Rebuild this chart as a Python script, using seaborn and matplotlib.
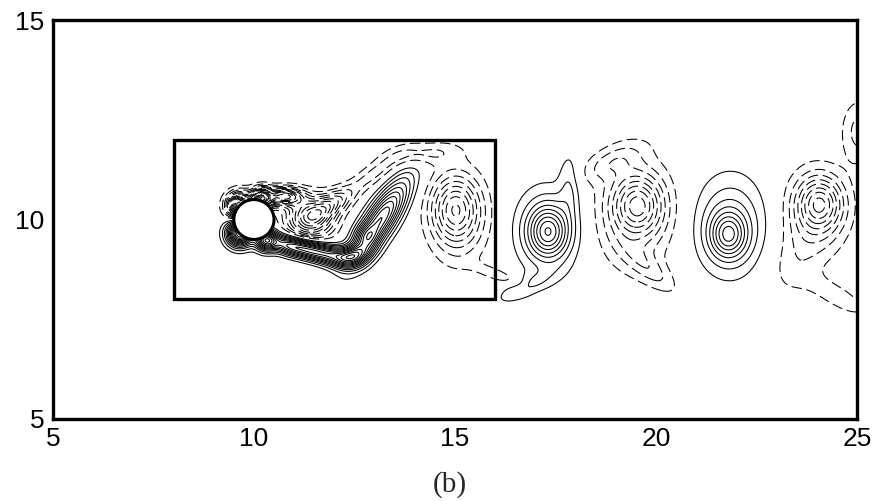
import matplotlib
matplotlib.use("Agg")
import matplotlib.pyplot as plt
import seaborn as sns
import numpy as np
from matplotlib.patches import Circle, Rectangle

# Vortex patches: centre, strength, widths along/across, tilt (deg)
blob_x = [17.32, 17.30, 17.85, 16.75, 16.10,
          19.56, 19.45, 18.90, 19.85,
          21.80, 21.85,
          24.08, 24.00, 23.50, 24.55, 25.05,
          15.00, 15.10, 14.20, 13.00,
          13.15, 12.80,
          10.30, 10.85, 11.45, 12.05, 12.50,
          10.20, 10.75, 11.40, 11.95,
          9.65, 9.65]
blob_y = [9.69, 9.75, 10.90, 8.30, 8.60,
          10.36, 10.15, 11.45, 8.75,
          9.61, 9.85,
          10.41, 10.20, 9.00, 8.05, 12.20,
          10.28, 10.00, 11.65, 11.15,
          10.00, 9.57,
          9.48, 9.35, 9.22, 9.08, 9.10,
          10.52, 10.58, 10.05, 10.40,
          9.65, 10.35]
blob_amp = [3.0, 1.6, 0.9, 1.0, -0.8,
            -2.8, -1.6, -1.0, -1.0,
            2.6, 1.8,
            -2.8, -1.4, -0.7, -0.8, -1.2,
            -2.8, -1.4, -1.2, -1.2,
            5.0, 1.5,
            5.0, 4.0, 3.8, 3.6, 3.2,
            -7.0, -5.5, -4.5, -2.5,
            7.0, -7.0]
blob_sa = [0.33, 0.55, 0.18, 0.55, 0.45,
           0.42, 0.65, 0.60, 0.60,
           0.30, 0.60,
           0.38, 0.55, 0.45, 0.65, 0.30,
           0.40, 0.50, 0.60, 0.60,
           0.80, 0.20,
           0.18, 0.35, 0.35, 0.35, 0.30,
           0.18, 0.30, 0.40, 0.40,
           0.22, 0.22]
blob_sb = [0.42, 0.75, 0.55, 0.18, 0.12,
           0.50, 0.95, 0.25, 0.22,
           0.38, 0.85,
           0.45, 0.75, 0.75, 0.22, 0.55,
           0.55, 0.80, 0.20, 0.18,
           0.25, 0.20,
           0.18, 0.16, 0.16, 0.17, 0.17,
           0.18, 0.15, 0.35, 0.20,
           0.22, 0.22]
blob_theta = [0, 0, 0, 25, -20,
              0, 0, 25, -40,
              0, 0,
              0, 0, -25, -30, 0,
              0, 0, 5, 35,
              57, 0,
              0, -15, -15, -10, 20,
              0, 0, 0, 30,
              0, 0]

x_ticks = [5, 10, 15, 20, 25]
y_ticks = [5, 10, 15]
box = [8, 8, 8, 4]          # x0, y0, width, height of inner window
cyl = [10, 10, 0.5]         # cylinder centre and radius

gx = np.linspace(5, 25, 1001)
gy = np.linspace(5, 15, 501)
X, Y = np.meshgrid(gx, gy)
W = np.zeros_like(X)
for x0, y0, a, sa, sb, th in zip(blob_x, blob_y, blob_amp, blob_sa, blob_sb, blob_theta):
    t = np.radians(th)
    dx, dy = X - x0, Y - y0
    u = dx * np.cos(t) + dy * np.sin(t)
    v = -dx * np.sin(t) + dy * np.cos(t)
    W += a * np.exp(-(u ** 2 / (2 * sa ** 2) + v ** 2 / (2 * sb ** 2)))

levels = np.concatenate([-np.arange(0.5, 25, 0.5)[::-1], np.arange(0.5, 25, 0.5)])
styles = [(0, (10, 4.5)) if lv < 0 else "solid" for lv in levels]

sns.set_style("white")
plt.rcParams["font.family"] = ["Liberation Sans", "DejaVu Sans"]

fig = plt.figure(figsize=(8.77, 5.01), dpi=100)
ax = fig.add_axes([0.0604, 0.1637, 0.9166, 0.7963])
ax.contour(X, Y, W, levels=levels, colors="black", linewidths=0.75, linestyles=styles)

ax.add_patch(Circle((cyl[0], cyl[1]), cyl[2], facecolor="white", edgecolor="black",
                    lw=2.2, zorder=3))
ax.add_patch(Rectangle((box[0], box[1]), box[2], box[3], fill=False,
                       edgecolor="black", lw=2.4, zorder=4))

ax.set_xlim(5, 25)
ax.set_ylim(5, 15)
ax.set_xticks(x_ticks)
ax.set_yticks(y_ticks)
ax.tick_params(direction="in", length=3, width=0.8, labelsize=19, pad=6, colors="black")
for s in ax.spines.values():
    s.set_linewidth(2.4)
    s.set_color("black")

fig.text(0.5125, 0.018, "(b)", ha="center", va="baseline", fontsize=21,
         family=["Liberation Serif", "DejaVu Serif"])

fig.savefig("out.png", dpi=100)
